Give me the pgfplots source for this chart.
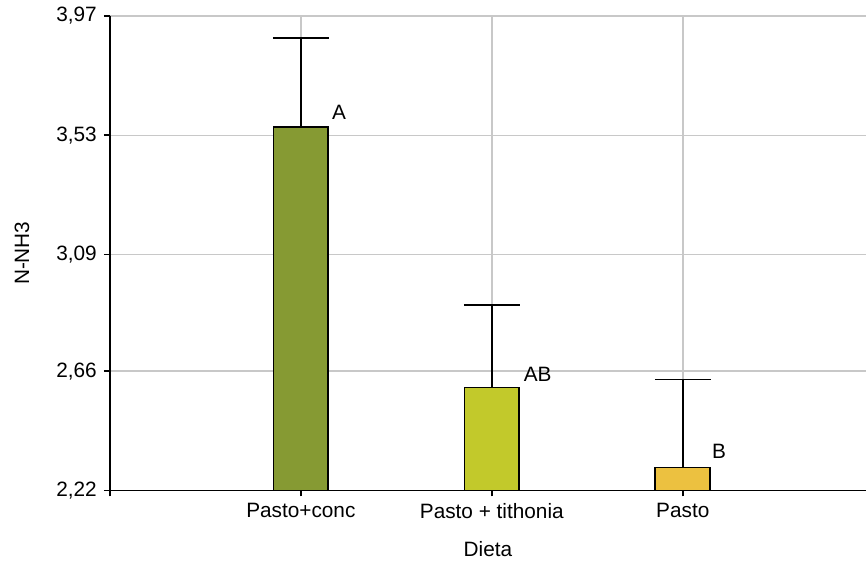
\documentclass[border=0pt]{standalone}
\usepackage{pgfplots}
\pgfplotsset{compat=1.18}
\usepackage{fontspec}
\setmainfont{Liberation Sans}
\definecolor{c1}{RGB}{134,154,51}
\definecolor{c2}{RGB}{194,201,43}
\definecolor{c3}{RGB}{236,193,64}
\definecolor{gridc}{RGB}{200,200,200}
\pgfplotsset{myerr/.style={error bars/.cd, y dir=plus, y explicit,
  error bar style={line width=1.8bp, black},
  error mark options={rotate=90, mark size=28bp, line width=1.8bp, black}}}
\begin{document}
\fontsize{20.8bp}{24bp}\selectfont
\begin{tikzpicture}
\begin{axis}[
  scale only axis,
  width=757bp, height=475bp,
  xmin=0, xmax=3.96,
  ymin=2.22, ymax=3.97,
  axis x line*=bottom, axis y line*=left,
  axis line style={line width=1.8bp, black},
  xtick={1,2,3},
  xticklabels={Pasto+conc,Pasto + tithonia,Pasto},
  extra x ticks={0}, extra x tick labels={}, extra x tick style={grid=none},
  ytick={2.22,2.66,3.09,3.53,3.97},
  yticklabels={{2,22},{2,66},{3,09},{3,53},{3,97}},
  tick align=outside,
  major tick length=6bp,
  tick style={line width=1.8bp, black},
  grid=major,
  major grid style={line width=1.5bp, gridc},
  xlabel={Dieta}, ylabel={N-NH3},
  x label style={at={(axis description cs:0.5,-0.124)}, anchor=center},
  y label style={at={(axis description cs:-0.1163,0.5)}, anchor=center},
  ybar, bar width=0.287, bar shift=0pt,
]
\addplot[fill=c1, draw=black, line width=1.8bp, myerr] coordinates {(1,3.561) +- (0,0.328)};
\addplot[fill=c2, draw=black, line width=1.8bp, myerr] coordinates {(2,2.600) +- (0,0.305)};
\addplot[fill=c3, draw=black, line width=1.8bp, myerr] coordinates {(3,2.305) +- (0,0.324)};
\node at (axis cs:1.2,3.613) {A};
\node at (axis cs:2.24,2.647) {AB};
\node at (axis cs:3.19,2.364) {B};
\end{axis}
\path (current axis.south west) ++(-110bp,-72bp) coordinate (bl);
\path (current axis.north east) ++(0bp,16bp) coordinate (tr);
\path (bl) rectangle (tr);
\end{tikzpicture}
\end{document}
